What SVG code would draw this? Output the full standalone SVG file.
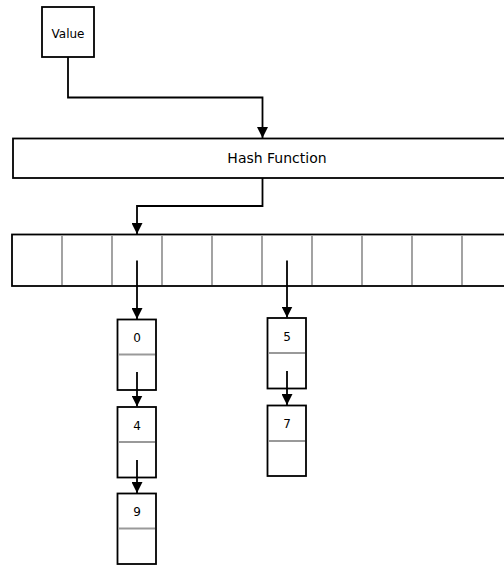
<svg xmlns="http://www.w3.org/2000/svg" width="504" height="565" viewBox="0 0 504 565">
<style>
.box{fill:#fff;stroke:#000;stroke-width:1.8}
.div{stroke:#999;stroke-width:1.8;fill:none}
.wire{fill:none;stroke:#000;stroke-width:1.8}
text{font-family:"DejaVu Sans",sans-serif;fill:#000;text-anchor:middle}
.t{font-size:12px}
.n{font-size:12px}
</style>
<defs>
<marker id="ah" viewBox="0 0 10 10" refX="10" refY="5" markerWidth="11" markerHeight="11" markerUnits="userSpaceOnUse" orient="auto">
<path d="M0,0 L10,5 L0,10 z" fill="#000"/>
</marker>
</defs>
<rect width="504" height="565" fill="#fff"/>
<g id="value">
<rect class="box" x="42" y="7" width="52" height="50"/>
<text class="t" x="68" y="38">Value</text>
</g>
<g id="hash">
<rect class="box" x="13" y="138.5" width="528" height="39.5"/>
<text style="font-size:14px" x="277" y="163">Hash Function</text>
</g>
<g id="array">
<rect class="box" x="12" y="234.5" width="540" height="51.5"/>
<path class="div" d="M62,235.5V285 M112,235.5V285 M162,235.5V285 M212,235.5V285 M262,235.5V285 M312,235.5V285 M362,235.5V285 M412,235.5V285 M462,235.5V285"/>
</g>
<g id="node0">
<rect class="box" x="117.5" y="319.5" width="38.5" height="70.5"/>
<path class="div" d="M118.5,354.5H155"/>
<text class="n" x="137" y="342">0</text>
</g>
<g id="node4">
<rect class="box" x="117.5" y="407" width="38.5" height="70.5"/>
<path class="div" d="M118.5,442H155"/>
<text class="n" x="137" y="429.5">4</text>
</g>
<g id="node9">
<rect class="box" x="117.5" y="493.5" width="38.5" height="70.5"/>
<path class="div" d="M118.5,528.5H155"/>
<text class="n" x="137" y="516">9</text>
</g>
<g id="node5">
<rect class="box" x="267.5" y="318" width="38.5" height="70.5"/>
<path class="div" d="M268.5,353H305"/>
<text class="n" x="287" y="340.5">5</text>
</g>
<g id="node7">
<rect class="box" x="267.5" y="405.5" width="38.5" height="70.5"/>
<path class="div" d="M268.5,441H305"/>
<text class="n" x="287" y="428">7</text>
</g>
<g id="connectors">
<path class="wire" d="M68,57V97.5H262.5V138" marker-end="url(#ah)"/>
<path class="wire" d="M262.5,178V206H137V234" marker-end="url(#ah)"/>
<path class="wire" d="M137,260.5V319" marker-end="url(#ah)"/>
<path class="wire" d="M287,260.5V317.5" marker-end="url(#ah)"/>
<path class="wire" d="M137,372V406.5" marker-end="url(#ah)"/>
<path class="wire" d="M137,460V493" marker-end="url(#ah)"/>
<path class="wire" d="M287,371V405" marker-end="url(#ah)"/>
</g>
</svg>
